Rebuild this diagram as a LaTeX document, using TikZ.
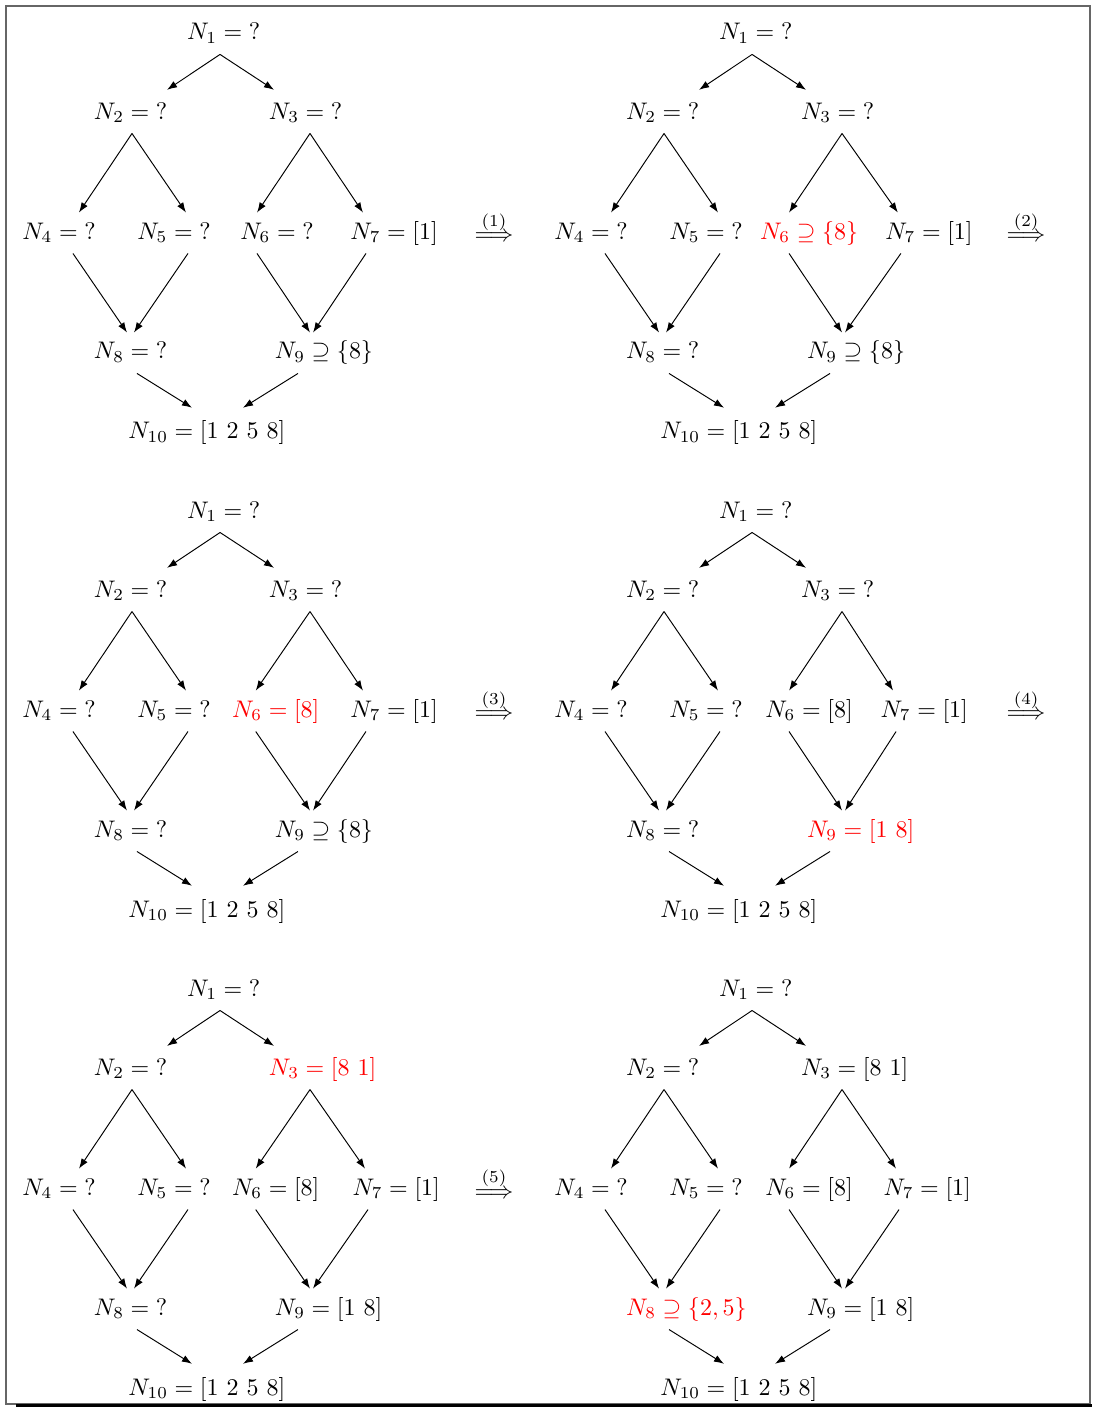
\documentclass[tikz,border=0pt]{standalone}
\usepackage{amsmath}
\usetikzlibrary{arrows.meta}

\begin{document}
\begin{tikzpicture}[
    font=\normalsize,
    lbl/.style    = {anchor=west, inner xsep=0pt, inner ysep=3.33pt,
                     text height=7.5pt, text depth=2.5pt},
    lblmid/.style = {lbl, anchor=center},
    lblnew/.style = {lbl, text=red},
    implies/.style = {inner sep=1pt},
    arr/.style    = {-{Latex[length=4.2pt,width=3pt]}, line width=0.4pt},
  ]

  \useasboundingbox (0,0) rectangle (16.0,-20.615);
  \draw[black!60, line width=0.8pt] (0.088,-0.088) rectangle (15.971,-20.571);
  \draw[line width=1.4pt] (0.234,-20.593) -- (16.0,-20.593);

  % step 1
  \begin{scope}
    \node[lbl] (a1) at (2.733cm, -0.498cm) {$N_1 = {?}$};
    \node[lbl] (a2) at (1.370cm, -1.656cm) {$N_2 = {?}$};
    \node[lbl] (a3) at (3.934cm, -1.656cm) {$N_3 = {?}$};
    \node[lbl] (a4) at (0.322cm, -3.414cm) {$N_4 = {?}$};
    \node[lbl] (a5) at (2.007cm, -3.414cm) {$N_5 = {?}$};
    \node[lblmid] (a6) at (4.059cm, -3.414cm) {$N_6 = {?}$};
    \node[lbl] (a7) at (5.128cm, -3.414cm) {$N_7 = [1]$};
    \node[lbl] (a8) at (1.370cm, -5.172cm) {$N_8 = {?}$};
    \node[lbl] (a9) at (4.022cm, -5.172cm) {$N_9 \supseteq \{8\}$};
    \node[lbl] (a10) at (1.875cm, -6.344cm) {$N_{10} = [1\ 2\ 5\ 8]$};
    \node[implies] (i1) at (7.238cm, -3.320cm) {$\overset{(1)}{\Longrightarrow}$};
  \end{scope}

  % step 2
  \begin{scope}[shift={(7.795cm,0cm)}]
    \node[lbl] (b1) at (2.733cm, -0.498cm) {$N_1 = {?}$};
    \node[lbl] (b2) at (1.370cm, -1.656cm) {$N_2 = {?}$};
    \node[lbl] (b3) at (3.934cm, -1.656cm) {$N_3 = {?}$};
    \node[lbl] (b4) at (0.322cm, -3.414cm) {$N_4 = {?}$};
    \node[lbl] (b5) at (2.007cm, -3.414cm) {$N_5 = {?}$};
    \node[lblmid, text=red] (b6) at (4.059cm, -3.414cm) {$N_6 \supseteq \{8\}$};
    \node[lbl] (b7) at (5.170cm, -3.414cm) {$N_7 = [1]$};
    \node[lbl] (b8) at (1.370cm, -5.172cm) {$N_8 = {?}$};
    \node[lbl] (b9) at (4.022cm, -5.172cm) {$N_9 \supseteq \{8\}$};
    \node[lbl] (b10) at (1.875cm, -6.344cm) {$N_{10} = [1\ 2\ 5\ 8]$};
    \node[implies] (i2) at (7.238cm, -3.320cm) {$\overset{(2)}{\Longrightarrow}$};
  \end{scope}

  % step 3
  \begin{scope}[shift={(0cm,-7.004cm)}]
    \node[lbl] (c1) at (2.733cm, -0.498cm) {$N_1 = {?}$};
    \node[lbl] (c2) at (1.370cm, -1.656cm) {$N_2 = {?}$};
    \node[lbl] (c3) at (3.934cm, -1.656cm) {$N_3 = {?}$};
    \node[lbl] (c4) at (0.322cm, -3.414cm) {$N_4 = {?}$};
    \node[lbl] (c5) at (2.007cm, -3.414cm) {$N_5 = {?}$};
    \node[lblmid, text=red] (c6) at (4.040cm, -3.414cm) {$N_6 = [8]$};
    \node[lbl] (c7) at (5.128cm, -3.414cm) {$N_7 = [1]$};
    \node[lbl] (c8) at (1.370cm, -5.172cm) {$N_8 = {?}$};
    \node[lbl] (c9) at (4.022cm, -5.172cm) {$N_9 \supseteq \{8\}$};
    \node[lbl] (c10) at (1.875cm, -6.344cm) {$N_{10} = [1\ 2\ 5\ 8]$};
    \node[implies] (i3) at (7.238cm, -3.320cm) {$\overset{(3)}{\Longrightarrow}$};
  \end{scope}

  % step 4
  \begin{scope}[shift={(7.795cm,-7.004cm)}]
    \node[lbl] (d1) at (2.733cm, -0.498cm) {$N_1 = {?}$};
    \node[lbl] (d2) at (1.370cm, -1.656cm) {$N_2 = {?}$};
    \node[lbl] (d3) at (3.934cm, -1.656cm) {$N_3 = {?}$};
    \node[lbl] (d4) at (0.322cm, -3.414cm) {$N_4 = {?}$};
    \node[lbl] (d5) at (2.007cm, -3.414cm) {$N_5 = {?}$};
    \node[lblmid] (d6) at (4.059cm, -3.414cm) {$N_6 = [8]$};
    \node[lbl] (d7) at (5.100cm, -3.414cm) {$N_7 = [1]$};
    \node[lbl] (d8) at (1.370cm, -5.172cm) {$N_8 = {?}$};
    \node[lblnew] (d9) at (4.022cm, -5.172cm) {$N_9 = [1\ 8]$};
    \node[lbl] (d10) at (1.875cm, -6.344cm) {$N_{10} = [1\ 2\ 5\ 8]$};
    \node[implies] (i4) at (7.238cm, -3.320cm) {$\overset{(4)}{\Longrightarrow}$};
  \end{scope}

  % step 5
  \begin{scope}[shift={(0cm,-14.008cm)}]
    \node[lbl] (e1) at (2.733cm, -0.498cm) {$N_1 = {?}$};
    \node[lbl] (e2) at (1.370cm, -1.656cm) {$N_2 = {?}$};
    \node[lblnew] (e3) at (3.934cm, -1.656cm) {$N_3 = [8\ 1]$};
    \node[lbl] (e4) at (0.322cm, -3.414cm) {$N_4 = {?}$};
    \node[lbl] (e5) at (2.007cm, -3.414cm) {$N_5 = {?}$};
    \node[lblmid] (e6) at (4.040cm, -3.414cm) {$N_6 = [8]$};
    \node[lbl] (e7) at (5.158cm, -3.414cm) {$N_7 = [1]$};
    \node[lbl] (e8) at (1.370cm, -5.172cm) {$N_8 = {?}$};
    \node[lbl] (e9) at (4.022cm, -5.172cm) {$N_9 = [1\ 8]$};
    \node[lbl] (e10) at (1.875cm, -6.344cm) {$N_{10} = [1\ 2\ 5\ 8]$};
    \node[implies] (i5) at (7.238cm, -3.320cm) {$\overset{(5)}{\Longrightarrow}$};
  \end{scope}

  % step 6
  \begin{scope}[shift={(7.795cm,-14.008cm)}]
    \node[lbl] (f1) at (2.733cm, -0.498cm) {$N_1 = {?}$};
    \node[lbl] (f2) at (1.370cm, -1.656cm) {$N_2 = {?}$};
    \node[lbl] (f3) at (3.934cm, -1.656cm) {$N_3 = [8\ 1]$};
    \node[lbl] (f4) at (0.322cm, -3.414cm) {$N_4 = {?}$};
    \node[lbl] (f5) at (2.007cm, -3.414cm) {$N_5 = {?}$};
    \node[lblmid] (f6) at (4.059cm, -3.414cm) {$N_6 = [8]$};
    \node[lbl] (f7) at (5.143cm, -3.414cm) {$N_7 = [1]$};
    \node[lblnew] (f8) at (1.370cm, -5.172cm) {$N_8 \supseteq \{2,5\}$};
    \node[lbl] (f9) at (4.022cm, -5.172cm) {$N_9 = [1\ 8]$};
    \node[lbl] (f10) at (1.875cm, -6.344cm) {$N_{10} = [1\ 2\ 5\ 8]$};
  \end{scope}

  \foreach \p in {a,b,c,d,e,f} {
    \draw[arr] ([xshift=0.491cm]\p1.south west) -- ([xshift=1.077cm,yshift=0.04cm]\p2.north west);
    \draw[arr] ([xshift=0.491cm]\p1.south west) -- ([xshift=0.081cm,yshift=0.04cm]\p3.north west);
    \draw[arr] ([xshift=0.564cm]\p2.south west) -- ([xshift=0.835cm]\p4.north west);
    \draw[arr] ([xshift=0.564cm]\p2.south west) -- ([xshift=0.718cm]\p5.north west);
    \draw[arr] ([xshift=0.608cm]\p3.south west) -- ([xshift=-0.293cm]\p6.north);
    \draw[arr] ([xshift=0.608cm]\p3.south west) -- ([xshift=0.190cm]\p7.north west);
    \draw[arr] ([xshift=0.747cm]\p4.south west) -- ([xshift=0.491cm]\p8.north west);
    \draw[arr] ([xshift=0.747cm]\p5.south west) -- ([xshift=0.593cm]\p8.north west);
    \draw[arr] ([xshift=-0.293cm]\p6.south) -- ([xshift=0.520cm]\p9.north west);
    \draw[arr] ([xshift=0.234cm]\p7.south west) -- ([xshift=0.564cm]\p9.north west);
    \draw[arr] ([xshift=0.637cm]\p8.south west) -- ([xshift=0.938cm,yshift=0.07cm]\p10.north west);
    \draw[arr] ([xshift=0.344cm]\p9.south west) -- ([xshift=1.685cm,yshift=0.07cm]\p10.north west);
  }

\end{tikzpicture}
\end{document}
